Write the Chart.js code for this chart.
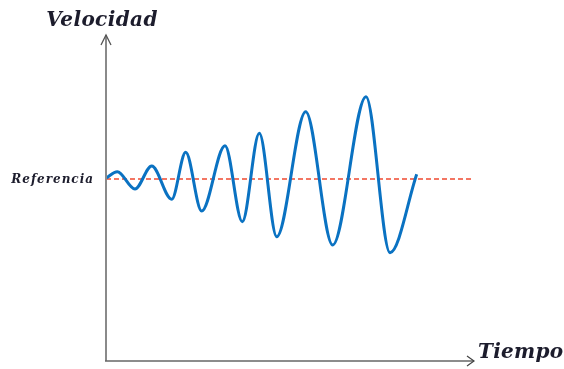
<!DOCTYPE html>
<html lang="es">
<head>
  <meta charset="UTF-8">
  <title>Velocidad vs Tiempo</title>
  <script src="https://cdn.jsdelivr.net/npm/chart.js"></script>
  <style>
    html, body { margin: 0; padding: 0; background: #fff; }
    canvas { display: block; }
  </style>
</head>
<body>
  <canvas id="velocidadChart" width="564" height="369"></canvas>
  <script>
    // Datos: maximos y minimos de la oscilacion
    const tiempo    = [0, 1.13, 2.9, 4.57, 6.57, 7.97, 9.57, 11.9, 13.63, 15.33, 17.07, 19.97, 22.67, 26.0, 28.4, 31.07];
    const velocidad = [0.1, 0.73, -1.0, 1.3, -2.03, 2.67, -3.2, 3.33, -4.27, 4.57, -5.77, 6.73, -6.6, 8.23, -7.37, 0.47];
    const referencia = 0;
    const rangoTiempo = [0, 36.8];
    const rangoVelocidad = [-18.2, 14.4];

    const textColor = '#1c1c2c';
    const fontTitulo = 'bold italic 20px "DejaVu Serif", "Liberation Serif", serif';
    const fontRef = 'bold italic 12px "DejaVu Serif", "Liberation Serif", serif';

    // Ejes con flechas y rotulos
    const ejesPlugin = {
      id: 'ejes',
      afterDatasetsDraw(chart) {
        const { ctx, scales: { x, y } } = chart;
        const x0 = x.getPixelForValue(rangoTiempo[0]);
        const x1 = x.getPixelForValue(rangoTiempo[1]);
        const yb = y.getPixelForValue(rangoVelocidad[0]);
        const yt = y.getPixelForValue(rangoVelocidad[1]);
        ctx.save();
        // eje Y
        ctx.strokeStyle = '#8a8a8a';
        ctx.lineWidth = 2;
        ctx.beginPath();
        ctx.moveTo(x0, yb);
        ctx.lineTo(x0, yt);
        ctx.stroke();
        ctx.lineWidth = 1.3;
        ctx.strokeStyle = '#555';
        ctx.beginPath();
        ctx.moveTo(x0 - 5, yt + 10);
        ctx.lineTo(x0, yt);
        ctx.lineTo(x0 + 5, yt + 10);
        ctx.stroke();
        // eje X
        ctx.strokeStyle = '#666';
        ctx.lineWidth = 1.5;
        ctx.beginPath();
        ctx.moveTo(x0 - 1, yb);
        ctx.lineTo(x1, yb);
        ctx.stroke();
        ctx.lineWidth = 1.2;
        ctx.strokeStyle = '#444';
        ctx.beginPath();
        ctx.moveTo(x1 - 7, yb - 5);
        ctx.lineTo(x1, yb);
        ctx.lineTo(x1 - 7, yb + 5);
        ctx.stroke();

        // textos
        ctx.fillStyle = textColor;
        ctx.font = fontTitulo;
        ctx.letterSpacing = '0.4px';
        ctx.textAlign = 'center';
        ctx.textBaseline = 'alphabetic';
        ctx.fillText('Velocidad', x0 - 4, yt - 9);
        ctx.textAlign = 'left';
        ctx.letterSpacing = '0.3px';
        ctx.fillText('Tiempo', x1 + 4, yb - 3);
        ctx.font = fontRef;
        ctx.letterSpacing = '1px';
        ctx.textAlign = 'right';
        ctx.textBaseline = 'middle';
        ctx.fillText('Referencia', x0 - 12, y.getPixelForValue(referencia) + 1);
        ctx.restore();
      }
    };

    new Chart(document.getElementById('velocidadChart'), {
      type: 'line',
      data: {
        datasets: [
          {
            label: 'Velocidad',
            data: tiempo.map((t, i) => ({ x: t, y: velocidad[i] })),
            borderColor: '#0a72c2',
            borderWidth: 3,
            pointRadius: 0,
            cubicInterpolationMode: 'monotone',
            order: 1
          },
          {
            label: 'Referencia',
            data: [{ x: rangoTiempo[0], y: referencia }, { x: rangoTiempo[1], y: referencia }],
            borderColor: '#f04a30',
            borderWidth: 1.6,
            borderDash: [5, 3],
            pointRadius: 0,
            order: 2
          }
        ]
      },
      options: {
        responsive: false,
        animation: false,
        devicePixelRatio: 1,
        layout: { padding: { left: 106, right: 90, top: 35, bottom: 8 } },
        plugins: { legend: { display: false }, tooltip: { enabled: false } },
        scales: {
          x: { type: 'linear', display: false, min: rangoTiempo[0], max: rangoTiempo[1] },
          y: { display: false, min: rangoVelocidad[0], max: rangoVelocidad[1] }
        }
      },
      plugins: [ejesPlugin]
    });
  </script>
</body>
</html>
